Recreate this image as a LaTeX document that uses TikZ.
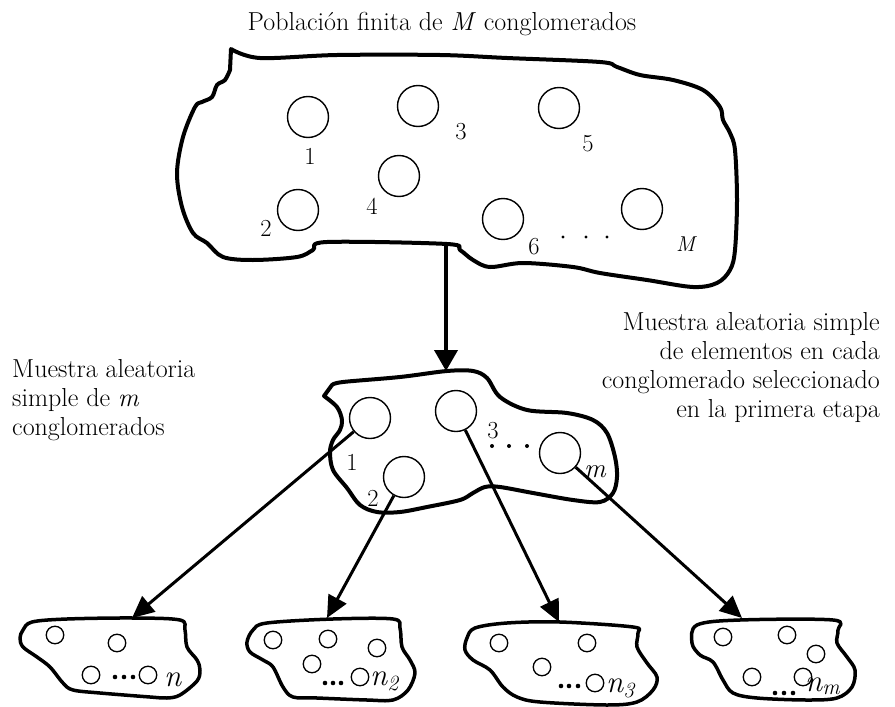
\documentclass[tikz,border=0pt]{standalone}
\usepackage{fontspec}
\usetikzlibrary{arrows.meta}
\begin{document}
\begin{tikzpicture}[x=1pt,y=-1pt,
 blob/.style={line width=4pt, line join=round},
 sblob/.style={line width=3.5pt, line join=round},
 bigc/.style={circle, draw, line width=1.4pt, minimum size=41pt, inner sep=0pt},
 smc/.style={circle, draw, line width=1.3pt, minimum size=17.5pt, inner sep=0pt},
 lbl/.style={font=\fontsize{24.5}{28}\selectfont, inner sep=0pt},
 txt/.style={font=\fontsize{26}{29}\selectfont, inner sep=0pt},
 nlbl/.style={anchor=base west, inner sep=0pt, font=\fontsize{31}{33}\selectfont\itshape},
 bdot/.style={circle, fill, inner sep=0pt, minimum size=3.2pt},
 mdot/.style={circle, fill, inner sep=0pt, minimum size=4pt},
 ldot/.style={circle, fill, inner sep=0pt, minimum size=4.6pt},
 mainarr/.style={line width=4pt, -{Triangle[length=21pt,width=23pt]}},
 arr/.style={line width=3pt, -{Triangle[length=22pt,width=20pt]}},
]
\useasboundingbox (0,0) rectangle (895,707);

% texts
\node[txt, anchor=base] (title) at (442,30) {Población finita de \textit{M} conglomerados};
\node[txt, anchor=north west, align=left] (ltext) at (12,359) {Muestra aleatoria\\simple de \textit{m}\\conglomerados};
\node[txt, anchor=north east, align=right] (rtext) at (880,312) {Muestra aleatoria simple\\de elementos en cada\\conglomerado seleccionado\\en la primera etapa};

% big blob
\draw[blob] plot[smooth, tension=0.55] coordinates {(231,49) (260,58) (337,55) (440,55) (507,58) (600,62) (617,67) (640,75) (673,80) (703,90) (720,107) (723,120) (730,133) (735,150) (737,200) (735,250) (730,270) (717,283) (693,287) (647,280) (600,273) (573,267) (523,263) (490,267) (473,260) (460,250) (447,244) (327,242) (313,250) (297,257) (253,260) (223,257) (207,243) (193,233) (182,207) (177,173) (183,137) (195,107) (202,102) (212,97) (217,85) (225,80) (230,70)} -- cycle;

\node[bigc] (b1) at (308,117) {};
\node[bigc] (b3) at (418,106) {};
\node[bigc] (b5) at (559,108) {};
\node[bigc] (b4) at (399,176) {};
\node[bigc] (b2) at (298,210) {};
\node[bigc] (b6) at (503,219) {};
\node[bigc] (bM) at (642,209) {};
\node[lbl] (lb1) at (310,156) {1};
\node[lbl] (lb3) at (461,132) {3};
\node[lbl] (lb5) at (588,144) {5};
\node[lbl] (lb4) at (372,206) {4};
\node[lbl] (lb2) at (266,228) {2};
\node[lbl] (lb6) at (534,247) {6};
\node[lbl, anchor=base west, font=\fontsize{21.5}{24}\selectfont\itshape] (lbM) at (676,251) {M};
\node[bdot] (bd1) at (563,237) {};
\node[bdot] (bd2) at (586,237) {};
\node[bdot] (bd3) at (607,237) {};

% main arrow
\coordinate (bbot) at (446,244);
\coordinate (mtop) at (446,371);
\draw[mainarr] (bbot) -- (mtop);

% middle blob
\draw[blob] plot[smooth, tension=0.55] coordinates {(324,396) (337,407) (342,420) (340,430) (333,440) (330,452) (333,470) (347,488) (360,505) (377,512) (400,512) (427,507) (460,500) (473,493) (485,487) (500,487) (533,493) (573,500) (600,502) (613,493) (617,477) (615,457) (607,433) (593,420) (567,413) (527,410) (500,397) (487,378) (473,371) (447,371) (400,377) (343,382) (332,385)} -- cycle;

\node[bigc] (m1) at (370,418) {};
\node[bigc] (m3) at (456,411) {};
\node[bigc] (mm) at (560,453) {};
\node[bigc] (m2) at (404,477) {};
\node[lbl] (lm1) at (352,462) {1};
\node[lbl] (lm2) at (373,498) {2};
\node[lbl] (lm3) at (493,431) {3};
\node[lbl, anchor=base west, font=\fontsize{27}{30}\selectfont\itshape] (lmm) at (584,477) {m};
\node[mdot] (md1) at (492,446) {};
\node[mdot] (md2) at (509,446) {};
\node[mdot] (md3) at (527,446) {};

% arrow targets
\coordinate (t1) at (132,618);
\coordinate (t2) at (327,618);
\coordinate (t3) at (559,622);
\coordinate (tm) at (742,618);
\draw[arr] (m1) -- (t1);
\draw[arr] (m2) -- (t2);
\draw[arr] (m3) -- (t3);
\draw[arr] (mm) -- (tm);

% lower blob 1
\draw[sblob] plot[smooth cycle, tension=0.55] coordinates {(32,622) (67,619) (133,618) (180,620) (185,630) (187,647) (197,660) (200,670) (197,681) (180,695) (167,698) (150,697) (100,693) (73,690) (63,683) (50,667) (37,657) (23,647) (20,638) (23,630)};
\node[smc] (a1) at (55,635) {};
\node[smc] (a2) at (117,643) {};
\node[smc] (a3) at (91,675) {};
\node[smc] (a4) at (148,675) {};
\node[ldot] (ad1) at (115,677) {};
\node[ldot] (ad2) at (124,677) {};
\node[ldot] (ad3) at (133,677) {};
\node[nlbl] (an) at (164,686) {n};

% lower blob 2
\draw[sblob] plot[smooth cycle, tension=0.55] coordinates {(253,630) (267,623) (333,619) (393,619) (400,628) (402,647) (410,660) (415,673) (408,690) (393,700) (367,700) (317,698) (293,697) (283,687) (273,667) (263,660) (250,652) (247,642)};
\node[smc] (c1) at (273,640) {};
\node[smc] (c2) at (328,639) {};
\node[smc] (c3) at (377,648) {};
\node[smc] (c4) at (312,664) {};
\node[smc] (c5) at (360,677) {};
\node[ldot] (cd1) at (325,683) {};
\node[ldot] (cd2) at (333,683) {};
\node[ldot] (cd3) at (341,683) {};
\node[nlbl] (cn) at (370,685) {n\textsubscript{2}};

% lower blob 3
\draw[sblob] plot[smooth cycle, tension=0.55] coordinates {(475,628) (507,623) (560,622) (633,627) (638,633) (637,647) (647,663) (657,677) (653,690) (637,702) (607,705) (540,702) (517,697) (503,687) (490,670) (473,660) (465,650) (467,638)};
\node[smc] (e1) at (499,643) {};
\node[smc] (e2) at (587,643) {};
\node[smc] (e3) at (542,667) {};
\node[smc] (e4) at (595,683) {};
\node[ldot] (ed1) at (561,686) {};
\node[ldot] (ed2) at (569,686) {};
\node[ldot] (ed3) at (578,686) {};
\node[nlbl] (en) at (606,692) {n\textsubscript{3}};

% lower blob 4
\draw[sblob] plot[smooth cycle, tension=0.55] coordinates {(697,625) (740,620) (833,620) (838,630) (837,643) (847,657) (855,670) (852,687) (837,698) (807,700) (757,698) (733,693) (723,680) (713,662) (700,655) (692,643)};
\node[smc] (g1) at (723,637) {};
\node[smc] (g2) at (787,635) {};
\node[smc] (g3) at (816,654) {};
\node[smc] (g4) at (752,677) {};
\node[smc] (g5) at (803,677) {};
\node[ldot] (gd1) at (775,693) {};
\node[ldot] (gd2) at (784,693) {};
\node[ldot] (gd3) at (793,693) {};
\node[nlbl] (gn) at (805,691) {n\textsubscript{m}};
\end{tikzpicture}
\end{document}
